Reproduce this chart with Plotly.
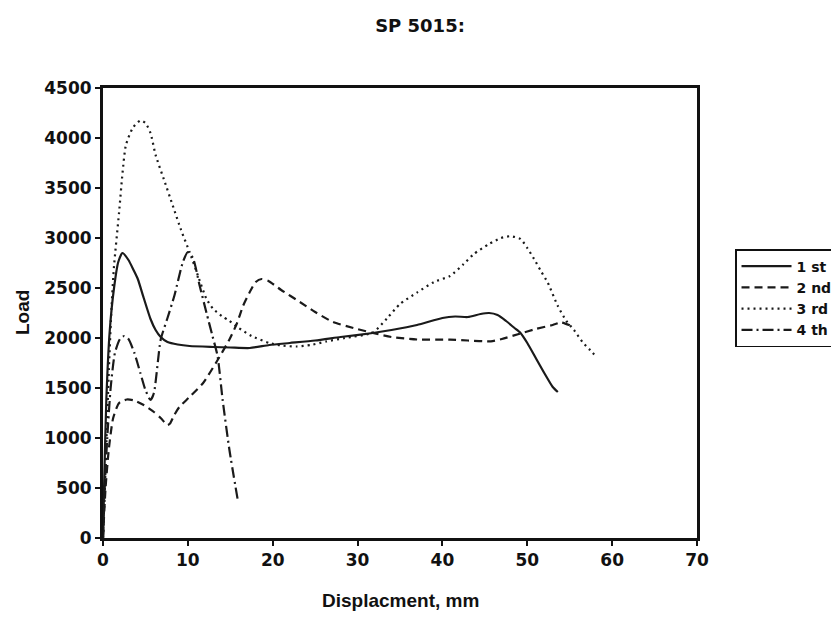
import plotly.graph_objects as go

# ---- data ----
series_names = ["1 st", "2 nd", "3 rd", "4 th"]

x1 = [0, 0.15, 0.4, 0.8, 1.3, 1.8, 2.3, 3.0, 3.6, 4.1, 4.8, 5.6, 6.2, 6.8, 7.6, 8.8, 10.2, 13, 15, 17.3, 19.6,
      22, 25, 28, 31.8, 34, 37, 40, 41.5, 43, 44.5, 45.5, 46.5, 47.5, 48.5, 49.2, 50, 51, 52, 53, 53.6]
y1 = [0, 600, 1400, 2080, 2500, 2760, 2850, 2780, 2680, 2590, 2400, 2190, 2080, 2010, 1960, 1935, 1920, 1910, 1905, 1900, 1930,
      1950, 1975, 2010, 2050, 2080, 2130, 2200, 2215, 2210, 2240, 2250, 2230, 2170, 2100, 2050, 1950, 1800, 1650, 1510, 1460]

x2 = [0, 0.3, 0.7, 1.2, 1.9, 2.8, 3.7, 4.8, 6.0, 6.8, 7.6, 7.9, 8.4, 9.0, 10.2, 11.8, 13.3, 14.9, 15.8, 16.5, 17.3, 18.0,
      18.7, 19.5, 21, 23.2, 25, 27.1, 29.5, 31.8, 34, 37, 40.9, 43, 45.7, 47, 49, 51, 53, 54, 55.2]
y2 = [0, 500, 900, 1200, 1350, 1385, 1375, 1330, 1260, 1200, 1130, 1145, 1230, 1310, 1410, 1550, 1750, 1985, 2150, 2320, 2460, 2560,
      2590, 2570, 2480, 2360, 2260, 2160, 2100, 2050, 2010, 1985, 1984, 1975, 1967, 1990, 2040, 2090, 2130, 2155, 2120]

x3 = [0, 0.3, 0.7, 1.0, 1.3, 1.9, 2.3, 2.7, 3.5, 4.4, 5.0, 5.6, 6.2, 7.2, 8.2, 9.2, 10.2, 11.2, 12.2, 13.0, 14.0, 14.9, 16,
      17.5, 19.6, 21, 22.8, 24.5, 26.3, 28.5, 31.8, 33.5, 35, 37, 39, 40.9, 42.5, 43.7, 45.5, 46.9, 48, 49.2, 50.0, 50.8,
      51.6, 52.4, 53.6, 54.6, 55.5, 56.5, 57.4, 58.1]
y3 = [0, 700, 1700, 2300, 2720, 3260, 3650, 3930, 4100, 4175, 4150, 4050, 3830, 3580, 3330, 3080, 2860, 2620, 2390, 2290, 2220, 2170, 2100,
      2020, 1950, 1925, 1915, 1930, 1965, 2000, 2054, 2200, 2340, 2454, 2560, 2620, 2740, 2840, 2940, 3000, 3018, 2990, 2900, 2790,
      2670, 2555, 2320, 2170, 2080, 1960, 1880, 1816]

x4 = [0, 0.2, 0.5, 0.9, 1.4, 2.0, 2.5, 3.0, 3.7, 4.4, 5.0, 5.6, 6.0, 6.8, 7.6, 8.4, 9.4, 10.0, 10.6, 11.4, 12.2, 12.9,
      13.5, 14.1, 14.9, 15.9]
y4 = [0, 500, 1000, 1500, 1850, 1990, 2020, 1990, 1850, 1650, 1480, 1380, 1450, 1984, 2200, 2420, 2756, 2860, 2800, 2520, 2250, 2020,
      1820, 1380, 880, 370]

x_ticks = [0, 10, 20, 30, 40, 50, 60, 70]
y_ticks = [0, 500, 1000, 1500, 2000, 2500, 3000, 3500, 4000, 4500]

title_text = "SP 5015:"
x_title = "Displacment, mm"
y_title = "Load"

dashes = ["solid", "8px,5px", "2px,4px", "11px,4px,2px,4px"]
xs = [x1, x2, x3, x4]
ys = [y1, y2, y3, y4]

fig = go.Figure()
for name, xv, yv, d in zip(series_names, xs, ys, dashes):
    fig.add_trace(go.Scatter(x=xv, y=yv, mode="lines", name=name,
                             line=dict(color="#1a1a1a", width=2.2, dash=d, shape="spline", smoothing=0.6)))

ink = "#111"
tickfont = dict(family="DejaVu Sans", size=17, color=ink, weight="bold")
titlefont = dict(family="Liberation Sans", size=19, color=ink, weight="bold")

# page body has an 8px default margin -> figure is 8px smaller and offset
fig.update_layout(
    width=831, height=609,
    margin=dict(l=95, r=142, t=80, b=79, autoexpand=False),
    paper_bgcolor="white", plot_bgcolor="white",
    title=dict(text=title_text, x=412/831, xanchor="center", y=1-18/609, yanchor="middle",
               font=dict(family="DejaVu Sans", size=18, color=ink, weight="bold")),
    showlegend=True,
    legend=dict(x=1.064, y=0.642, xanchor="left", yanchor="top",
                bgcolor="white", bordercolor=ink, borderwidth=1.5,
                font=dict(family="DejaVu Sans", size=14, color=ink, weight="bold"),
                itemwidth=50, tracegroupgap=0),
    annotations=[
        dict(text=x_title, xref="paper", yref="paper", x=0.5, y=-62/450, xanchor="center", yanchor="middle",
             showarrow=False, font=titlefont),
        dict(text=y_title, xref="paper", yref="paper", x=-81/594, y=0.5, xanchor="center", yanchor="middle",
             showarrow=False, font=titlefont, textangle=-90),
    ],
)
fig.update_xaxes(range=[0, 70], tickvals=x_ticks, showgrid=False, zeroline=False, automargin=False,
                 showline=True, linewidth=3, linecolor=ink, mirror=True,
                 ticks="outside", ticklen=5, tickwidth=1.5, tickcolor=ink,
                 tickfont=tickfont)
fig.update_yaxes(range=[0, 4500], tickvals=y_ticks, showgrid=False, zeroline=False, automargin=False,
                 showline=True, linewidth=3, linecolor=ink, mirror=True,
                 ticks="outside", ticklen=5, tickwidth=1.5, tickcolor=ink,
                 tickfont=tickfont)

fig.write_html("out.html")
